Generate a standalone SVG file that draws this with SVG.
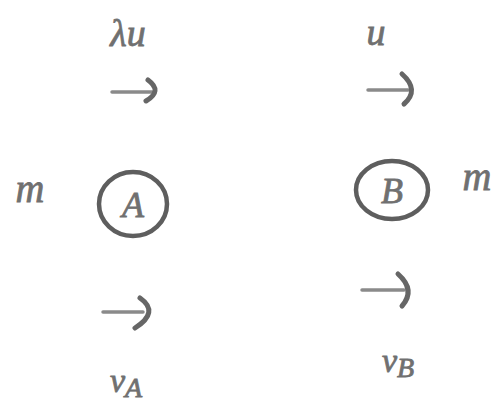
<svg xmlns="http://www.w3.org/2000/svg" width="498" height="405" viewBox="0 0 498 405">
<style>
.t{font-family:"Liberation Serif","DejaVu Serif",serif;font-style:italic;fill:#707070;stroke:#707070;stroke-width:0.8;text-anchor:middle}
.c{fill:none;stroke:#5e5e5e;stroke-width:4.5}
.s{fill:none;stroke:#8a8a8a;stroke-width:3.5;stroke-linecap:round}
.h{fill:none;stroke:#666;stroke-width:5;stroke-linecap:round}
</style>
<rect width="498" height="405" fill="#fff"/>
<g id="labels">
<text class="t" x="128" y="46" font-size="38">λu</text>
<text class="t" x="376" y="45" font-size="38">u</text>
<text class="t" x="30" y="202" font-size="40">m</text>
<text class="t" x="477" y="190" font-size="40">m</text>
<text class="t" x="126" y="392" font-size="34">v<tspan font-size="28" dy="5">A</tspan></text>
<text class="t" x="398" y="372" font-size="34">v<tspan font-size="28" dy="5">B</tspan></text>
</g>
<g id="nodeA">
<ellipse class="c" cx="133" cy="204" rx="34" ry="32"/>
<text class="t" x="133" y="217" font-size="36">A</text>
</g>
<g id="nodeB">
<ellipse class="c" cx="392" cy="190" rx="36" ry="29"/>
<text class="t" x="392" y="203" font-size="36">B</text>
</g>
<g id="connectors">
<path class="s" d="M112 92 L152 92"/>
<path class="h" d="M148 80 Q163 91 146 101"/>
<path class="s" d="M368 90 L408 90"/>
<path class="h" d="M402 74 Q420 90 404 104"/>
<path class="s" d="M103 312 L143 312"/>
<path class="h" d="M140 298 Q160 312 135 328"/>
<path class="s" d="M362 290 L404 290"/>
<path class="h" d="M398 274 Q416 290 402 306"/>
</g>
</svg>
